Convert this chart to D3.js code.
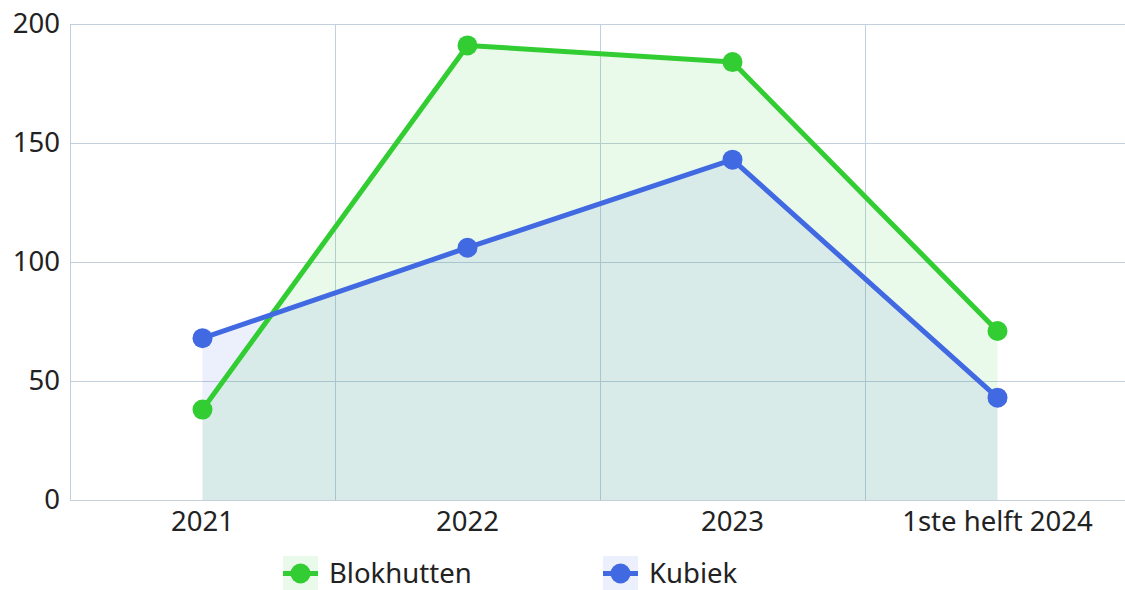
<!DOCTYPE html>
<html>
<head>
<meta charset="utf-8">
<script src="https://cdn.jsdelivr.net/npm/d3@7"></script>
<style>
  body { margin: 0; background: #fff; }
  svg { display: block; font-family: "Noto Sans", "Open Sans", sans-serif; }
</style>
</head>
<body>
<div class="chart"></div>
<script>
var categories = ["2021", "2022", "2023", "1ste helft 2024"];
var blokhutten = [38, 191, 184, 71];
var kubiek = [68, 106, 143, 43];
var yTicks = [0, 50, 100, 150, 200];

var series = [
    {name: "Blokhutten", values: blokhutten, color: "#32cd32"},
    {name: "Kubiek", values: kubiek, color: "#4169e1"}
];

var svgWidth = 1125;
var svgHeight = 590;
var margin = {top: 24, right: -5, bottom: 90, left: 70};
var width = svgWidth - margin.left - margin.right;
var height = svgHeight - margin.top - margin.bottom;
var fontSize = 27.5;

var svg = d3.select(".chart")
    .append("svg")
    .attr("width", svgWidth)
    .attr("height", svgHeight);

var chartGroup = svg.append("g")
    .attr("transform", `translate(${margin.left}, ${margin.top})`);

var xBand = d3.scaleBand()
    .domain(categories)
    .range([0, width]);

var yLinearScale = d3.scaleLinear()
    .domain([0, 200])
    .range([height, 0]);

var gridColor = "#c3d0dc";

// horizontal grid
chartGroup.append("g")
    .selectAll("line")
    .data(yTicks)
    .join("line")
    .attr("x1", 0)
    .attr("x2", width)
    .attr("y1", d => Math.round(yLinearScale(d)) + 0.5)
    .attr("y2", d => Math.round(yLinearScale(d)) + 0.5)
    .attr("stroke", gridColor)
    .attr("stroke-width", 1);

// vertical grid at band edges
chartGroup.append("g")
    .selectAll("line")
    .data(categories)
    .join("line")
    .attr("x1", d => Math.round(xBand(d)) + 0.5)
    .attr("x2", d => Math.round(xBand(d)) + 0.5)
    .attr("y1", 0)
    .attr("y2", height)
    .attr("stroke", gridColor)
    .attr("stroke-width", 1);

var xPos = (d, i) => xBand(categories[i]) + xBand.bandwidth() / 2;

// areas
series.forEach(s => {
    var area = d3.area()
        .x((d, i) => xPos(d, i))
        .y0(yLinearScale(0))
        .y1(d => yLinearScale(d));
    chartGroup.append("path")
        .datum(s.values)
        .attr("d", area)
        .attr("fill", s.color)
        .attr("fill-opacity", 0.1);
});

// lines and points
series.forEach(s => {
    var line = d3.line()
        .x((d, i) => xPos(d, i))
        .y(d => yLinearScale(d));
    chartGroup.append("path")
        .datum(s.values)
        .attr("d", line)
        .attr("fill", "none")
        .attr("stroke", s.color)
        .attr("stroke-width", 5)
        .attr("stroke-linejoin", "round");
    chartGroup.selectAll(null)
        .data(s.values)
        .join("circle")
        .attr("cx", (d, i) => xPos(d, i))
        .attr("cy", d => yLinearScale(d))
        .attr("r", 10)
        .attr("fill", s.color);
});

// axes
var leftAxis = d3.axisLeft(yLinearScale).tickValues(yTicks).tickSize(0).tickPadding(10);
var yAxis = chartGroup.append("g").call(leftAxis)
    .attr("font-family", null).attr("font-size", fontSize);
yAxis.select(".domain").attr("stroke", gridColor);
yAxis.selectAll("text").attr("fill", "#222");

var bottomAxis = d3.axisBottom(xBand).tickSize(0).tickPadding(11);
var xAxis = chartGroup.append("g")
    .attr("transform", `translate(0,${height})`)
    .call(bottomAxis)
    .attr("font-family", null).attr("font-size", fontSize);
xAxis.select(".domain").attr("stroke", gridColor);
xAxis.selectAll("text").attr("fill", "#222");

// legend
var legendX = [283, 603];
var legend = svg.append("g");
series.forEach((s, i) => {
    var g = legend.append("g").attr("transform", `translate(${legendX[i]}, 556)`);
    g.append("rect").attr("width", 35).attr("height", 35)
        .attr("fill", s.color).attr("fill-opacity", 0.1);
    g.append("line").attr("x1", 0).attr("x2", 35).attr("y1", 17.5).attr("y2", 17.5)
        .attr("stroke", s.color).attr("stroke-width", 5);
    g.append("circle").attr("cx", 17.5).attr("cy", 17.5).attr("r", 10).attr("fill", s.color);
    g.append("text").attr("x", 46).attr("y", 17.5).attr("dy", "0.35em")
        .attr("font-size", fontSize).attr("fill", "#222").text(s.name);
});
</script>
</body>
</html>
